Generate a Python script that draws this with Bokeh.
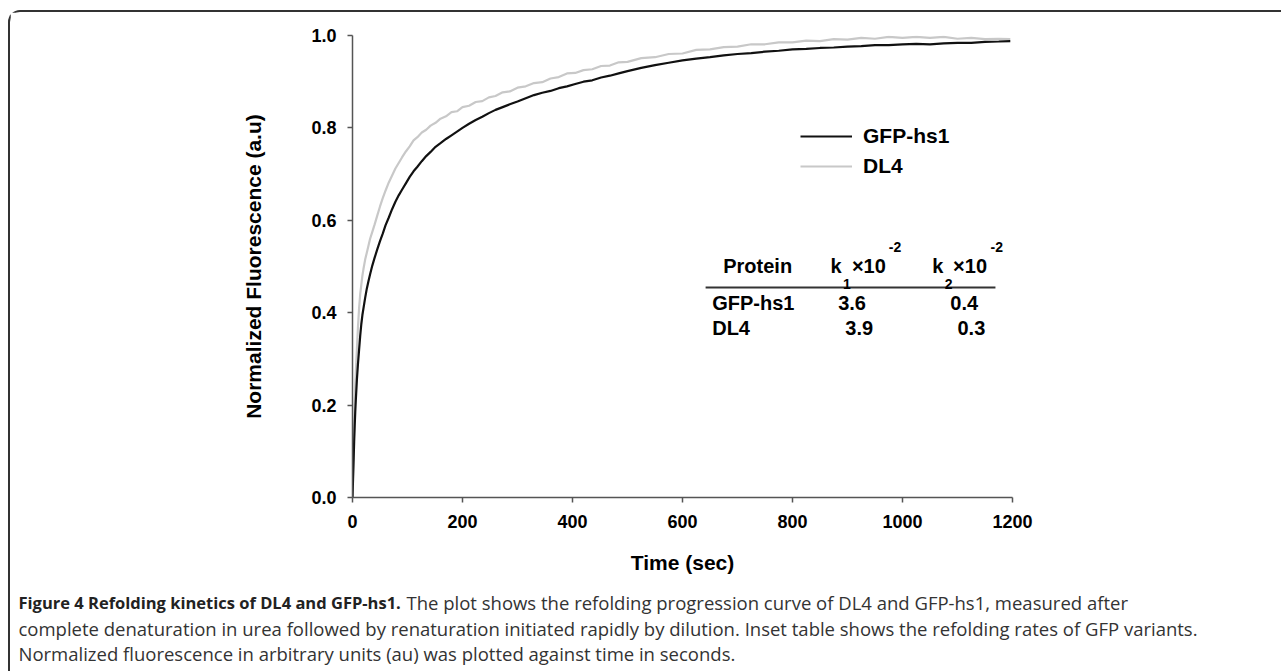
from bokeh.plotting import figure
from bokeh.layouts import column
from bokeh.models import (Label, FixedTicker, PrintfTickFormatter,
                          ColumnDataSource, Range1d, Legend, LegendItem)
from bokeh.core.properties import value
from bokeh.embed import file_html
from bokeh.resources import INLINE

# ---------------- data ----------------
time_s = [0, 1, 2, 3, 4, 5, 6, 8, 10, 12, 14, 16, 18, 20, 23, 26, 29, 32, 36, 40,
          45, 50, 55, 60, 66, 72, 78, 84, 90, 97, 104, 111, 118, 126, 134, 142, 151,
          160, 170, 180, 190, 200, 212, 224, 236, 248, 260, 273, 286, 300, 315, 330,
          345, 360, 375, 390, 405, 420, 436, 452, 468, 484, 500, 525, 550, 575, 600,
          625, 650, 675, 700, 725, 750, 775, 800, 825, 850, 875, 900, 925, 950, 975,
          1000, 1025, 1050, 1075, 1100, 1125, 1150, 1175, 1196]

dl4 = [0.000, 0.05, 0.10, 0.15, 0.20, 0.24, 0.27, 0.32, 0.37, 0.41, 0.44, 0.46, 0.48,
       0.495, 0.515, 0.530, 0.545, 0.560, 0.575, 0.590, 0.610, 0.630, 0.648, 0.664,
       0.682, 0.697, 0.712, 0.724, 0.736, 0.749, 0.760, 0.773, 0.780, 0.790, 0.796,
       0.805, 0.811, 0.820, 0.825, 0.834, 0.836, 0.845, 0.848, 0.856, 0.858, 0.866,
       0.869, 0.877, 0.879, 0.887, 0.890, 0.897, 0.899, 0.907, 0.910, 0.918, 0.919,
       0.925, 0.927, 0.934, 0.935, 0.942, 0.943, 0.951, 0.953, 0.960, 0.961, 0.969,
       0.970, 0.975, 0.976, 0.981, 0.981, 0.985, 0.985, 0.989, 0.988, 0.992, 0.991,
       0.995, 0.993, 0.997, 0.995, 0.997, 0.995, 0.997, 0.993, 0.995, 0.992, 0.993,
       0.992]

gfp_hs1 = [0.000, 0.04, 0.08, 0.12, 0.155, 0.185, 0.21, 0.255, 0.29, 0.32, 0.35, 0.375,
           0.395, 0.41, 0.432, 0.452, 0.468, 0.483, 0.502, 0.518, 0.537, 0.555, 0.571,
           0.589, 0.606, 0.624, 0.640, 0.654, 0.666, 0.680, 0.694, 0.706, 0.716, 0.728,
           0.739, 0.748, 0.759, 0.767, 0.776, 0.784, 0.792, 0.800, 0.809, 0.817, 0.824,
           0.832, 0.839, 0.845, 0.851, 0.857, 0.864, 0.871, 0.876, 0.880, 0.886, 0.890,
           0.895, 0.900, 0.903, 0.909, 0.913, 0.918, 0.923, 0.930, 0.936, 0.941, 0.946,
           0.950, 0.953, 0.957, 0.960, 0.962, 0.965, 0.967, 0.970, 0.971, 0.973, 0.974,
           0.976, 0.977, 0.979, 0.979, 0.981, 0.982, 0.981, 0.983, 0.984, 0.984, 0.986,
           0.987, 0.988]

x_ticks = [0, 200, 400, 600, 800, 1000, 1200]
y_ticks = [0.0, 0.2, 0.4, 0.6, 0.8, 1.0]

series_names = ["GFP-hs1", "DL4"]
table_header = ["Protein", "k", "1", "\u00d710", "-2", "k", "2", "\u00d710", "-2"]
table_proteins = ["GFP-hs1", "DL4"]
table_k1 = ["3.6", "3.9"]
table_k2 = ["0.4", "0.3"]

caption_bold = "Figure 4 Refolding kinetics of DL4 and GFP-hs1."
caption_rest = [
    "The plot shows the refolding progression curve of DL4 and GFP-hs1, measured after",
    "complete denaturation in urea followed by renaturation initiated rapidly by dilution. Inset table shows the refolding rates of GFP variants.",
    "Normalized fluorescence in arbitrary units (au) was plotted against time in seconds.",
]

# ---------------- main chart ----------------
FONT = "Liberation Sans"
W = 1271
H_MAIN, H_CAP = 573, 86
p = figure(width=W, height=H_MAIN, output_backend="svg", toolbar_location=None,
           x_range=Range1d(0, 1200), y_range=Range1d(0, 1.0),
           min_border_left=342, min_border_right=W - 342 - 660, min_border_top=23,
           min_border_bottom=H_MAIN - 23 - 462)
p.frame_align = False
p.outline_line_color = None
p.grid.visible = False
p.background_fill_color = "white"
p.border_fill_color = "white"

src = ColumnDataSource(dict(t=time_s, dl4=dl4, gfp=gfp_hs1))
r_gray = p.line("t", "dl4", source=src, line_color="#c8c8c8", line_width=2.2)
r_black = p.line("t", "gfp", source=src, line_color="#111111", line_width=2.2)

for ax in (p.xaxis[0], p.yaxis[0]):
    ax.axis_line_color = "#555555"
    ax.axis_line_width = 1.5
    ax.major_tick_line_color = "#555555"
    ax.major_tick_line_width = 1.5
    ax.major_tick_out = 5
    ax.major_tick_in = 0
    ax.minor_tick_line_color = None
    ax.major_label_text_font = FONT
    ax.major_label_text_font_style = "bold"
    ax.major_label_text_font_size = "18px"
    ax.major_label_text_color = "black"
    ax.axis_label_text_font = FONT
    ax.axis_label_text_font_style = "bold"
    ax.axis_label_text_font_size = "21px"
    ax.axis_label_text_color = "black"

p.xaxis.ticker = FixedTicker(ticks=x_ticks)
p.yaxis.ticker = FixedTicker(ticks=y_ticks)
p.yaxis.formatter = PrintfTickFormatter(format="%.1f")
p.xaxis.major_label_standoff = 12
p.yaxis.major_label_standoff = 11
p.xaxis.axis_label = "Time (sec)"
p.yaxis.axis_label = "Normalized Fluorescence (a.u)"
p.xaxis.axis_label_standoff = 20
p.yaxis.axis_label_standoff = 43

legend = Legend(items=[LegendItem(label=series_names[0], renderers=[r_black]),
                       LegendItem(label=series_names[1], renderers=[r_gray])],
                location=(448, 319), orientation="vertical",
                label_text_font=FONT, label_text_font_style="bold",
                label_text_font_size="21px", label_text_color="black",
                glyph_width=52, glyph_height=22, label_height=22, label_standoff=11,
                spacing=6, padding=0, margin=0,
                border_line_color=None, background_fill_alpha=0)
p.add_layout(legend)

# ---------------- inset table (inside the frame) ----------------
def tlabel(x, y, text, size="20px"):
    p.add_layout(Label(x=x, y=y, text=text, text_font=FONT, text_font_style="bold",
                       text_font_size=size, text_baseline="middle", text_align="left",
                       text_color="black"))

hdr_y, sub_y, sup_y = 0.502, 0.462, 0.542
hdr_x = [674, 869, 892, 908, 975, 1054, 1077, 1092, 1160]
hdr_y_list = [hdr_y, hdr_y, sub_y, hdr_y, sup_y, hdr_y, sub_y, hdr_y, sup_y]
hdr_size = ["20px", "20px", "14px", "20px", "14px", "20px", "14px", "20px", "14px"]
for xx, yy, tt, ss in zip(hdr_x, hdr_y_list, table_header, hdr_size):
    tlabel(xx, yy, tt, ss)

p.segment(x0=[642], y0=[0.4545], x1=[1169], y1=[0.4545], line_color="#333333",
          line_width=2)

row_y = [0.420, 0.366]
for i, yy in enumerate(row_y):
    tlabel(654, yy, table_proteins[i])
    tlabel([883, 896][i], yy, table_k1[i])
    tlabel([1087, 1100][i], yy, table_k2[i])

# ---------------- caption ----------------
cap = figure(width=W, height=H_CAP, output_backend="svg", toolbar_location=None,
             x_range=Range1d(0, W), y_range=Range1d(H_CAP, 0),
             x_axis_location=None, y_axis_location=None, min_border=0)
cap.frame_align = False
cap.outline_line_color = None
cap.grid.visible = False
CAP_FONT = "Open Sans"
cap.text(x=[8], y=[17], text=[caption_bold], text_font=value(CAP_FONT),
         text_font_style="bold", text_font_size="16.5px", text_baseline="middle",
         text_color="#222222")
cap.text(x=[396, 8, 8], y=[17, 43, 68], text=caption_rest, text_font=value(CAP_FONT),
         text_font_size="18.5px", text_baseline="middle", text_color="#333333")

layout = column(p, cap, styles={"margin-left": "8px", "margin-top": "10px",
                                "border-top": "2px solid #333333",
                                "border-left": "2px solid #333333",
                                "border-top-left-radius": "12px"})

open("out.html", "w").write(file_html(layout, INLINE))
